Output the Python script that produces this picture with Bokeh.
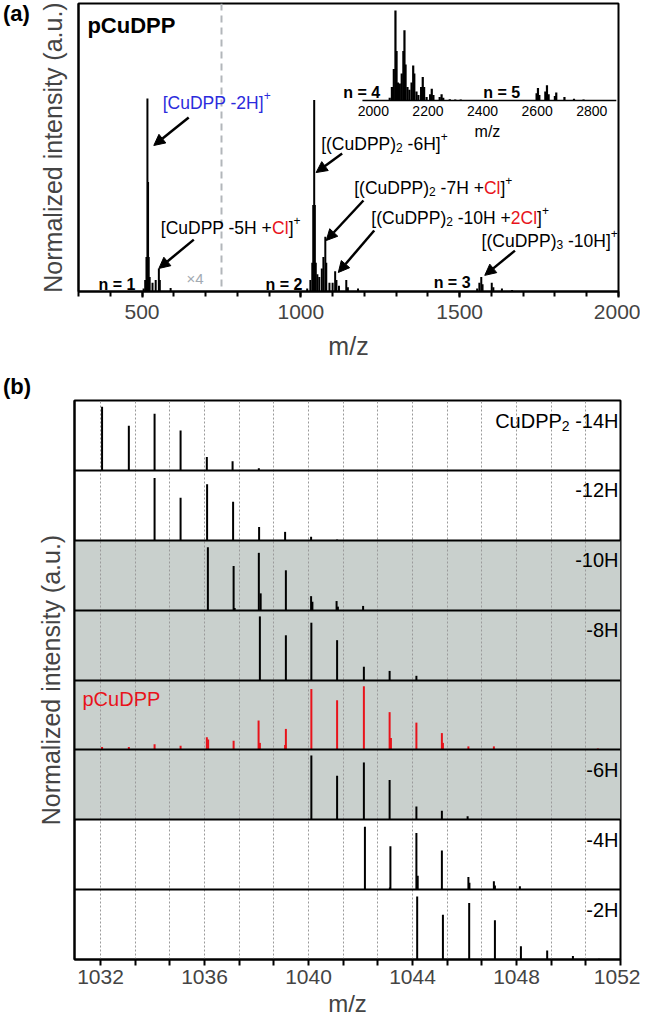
from bokeh.plotting import figure
from bokeh.models import (Range1d, SingleIntervalTicker, FixedTicker, Arrow,
                          NormalHead, ColumnDataSource, Div)
from bokeh.layouts import column, row
from bokeh.embed import file_html
from bokeh.resources import INLINE
from bokeh.core.properties import value

# ------------------------------------------------------------------ data (a)
# full-range spectrum (m/z, normalised intensity as displayed; n=1 region is x4)
a_mz = [505, 510, 514, 517, 519, 521, 524, 533, 543, 553, 556, 590,
        1020, 1030, 1036, 1039, 1042, 1044, 1047, 1052, 1058, 1066, 1071,
        1077, 1080, 1090, 1100, 1108, 1112, 1120, 1143, 1148, 1180,
        1555, 1562, 1568, 1572, 1601, 1606, 1633, 1665]
a_int = [0.01, 0.04, 0.12, 0.67, 0.38, 0.12, 0.05, 0.03, 0.04, 0.08, 0.04, 0.012,
         0.01, 0.04, 0.10, 0.30, 0.665, 0.30, 0.10, 0.06, 0.05, 0.08, 0.12,
         0.19, 0.10, 0.03, 0.03, 0.07, 0.04, 0.02, 0.04, 0.015, 0.01,
         0.01, 0.03, 0.05, 0.025, 0.03, 0.015, 0.01, 0.005]
x4_boundary = 750

# inset spectrum (n = 4, n = 5)
inset_mz = [2060, 2068, 2075, 2081, 2085, 2090, 2097, 2104, 2110, 2114, 2118,
            2125, 2132, 2140, 2146, 2150, 2158, 2165, 2175, 2181, 2186, 2195,
            2208, 2214, 2220, 2243, 2250, 2256, 2280, 2300, 2320,
            2598, 2603, 2608, 2630, 2636, 2642, 2665, 2670, 2700, 2735, 2770]
inset_int = [0.03, 0.15, 0.35, 1.00, 0.55, 0.20, 0.19, 0.30, 0.55, 0.78, 0.40,
             0.15, 0.12, 0.20, 0.39, 0.30, 0.10, 0.06, 0.15, 0.26, 0.15, 0.04,
             0.07, 0.13, 0.06, 0.04, 0.07, 0.03, 0.015, 0.01, 0.01,
             0.08, 0.14, 0.06, 0.10, 0.17, 0.07, 0.05, 0.09, 0.04, 0.02, 0.01]
inset_ticks = [2000, 2200, 2400, 2600, 2800]
inset_span = [1960, 2890]

# ------------------------------------------------------------------ data (b)
row_labels = ["-14H", "-12H", "-10H", "-8H", "pCuDPP", "-6H", "-4H", "-2H"]
mz_14H = [1032.06, 1033.09, 1034.08, 1035.08, 1036.09, 1037.08, 1038.09]
int_14H = [0.91, 0.64, 0.81, 0.57, 0.19, 0.13, 0.03]
mz_12H = [1034.08, 1035.08, 1036.10, 1037.10, 1038.10, 1039.10, 1040.10, 1041.10]
int_12H = [0.89, 0.61, 0.80, 0.55, 0.19, 0.12, 0.05, 0.01]
mz_10H = [1036.13, 1037.12, 1038.09, 1039.13, 1040.10, 1041.08, 1042.10]
int_10H = [0.90, 0.63, 0.82, 0.57, 0.20, 0.13, 0.06]
mz_10H_minor = [1037.16, 1038.16, 1040.15, 1041.13]
int_10H_minor = [0.03, 0.24, 0.12, 0.05]
mz_8H = [1038.13, 1039.13, 1040.11, 1041.10, 1042.13, 1043.12, 1044.15]
int_8H = [0.91, 0.64, 0.82, 0.57, 0.19, 0.13, 0.06]
mz_p = [1032.06, 1033.09, 1034.08, 1035.08, 1036.09, 1037.12, 1038.08, 1039.13,
        1040.11, 1041.10, 1042.13, 1043.12, 1044.15, 1045.13, 1046.15, 1047.13, 1051.13]
int_p = [0.04, 0.04, 0.08, 0.06, 0.18, 0.13, 0.42, 0.30,
         0.87, 0.71, 0.91, 0.54, 0.39, 0.24, 0.05, 0.05, 0.02]
mz_p_minor = [1036.14, 1038.13, 1039.10, 1043.17, 1045.17]
int_p_minor = [0.15, 0.10, 0.07, 0.17, 0.10]
mz_6H = [1040.11, 1041.10, 1042.13, 1043.12, 1044.15, 1045.13, 1046.12]
int_6H = [0.92, 0.63, 0.82, 0.57, 0.19, 0.13, 0.05]
mz_4H = [1042.17, 1043.15, 1044.15, 1045.13, 1046.15, 1047.13, 1048.13, 1049.15]
int_4H = [0.90, 0.62, 0.81, 0.56, 0.18, 0.12, 0.05, 0.01]
mz_4H_minor = [1043.13, 1044.20, 1046.19, 1047.17]
int_4H_minor = [0.03, 0.20, 0.10, 0.06]
mz_2H = [1044.18, 1045.17, 1046.18, 1047.17, 1048.17, 1049.18, 1050.17, 1051.17]
int_2H = [0.90, 0.64, 0.81, 0.56, 0.19, 0.13, 0.05, 0.01]
b_ticks = [1032, 1036, 1040, 1044, 1048, 1052]

# ------------------------------------------------------------------ styling helpers
FONT = "Liberation Sans"
BLUE = "#2b2bdc"
RED = "#e8131b"
GRAY_BG = "#c9d0cd"
YLABEL_SIZE = "25px"

W_REG = {' ': 278, '(': 333, ')': 333, '+': 584, '-': 333, '/': 278, '=': 584,
         '[': 278, ']': 278, 'C': 722, 'D': 722, 'H': 722, 'P': 667, 'l': 222,
         'u': 556, 'n': 556, 'm': 833, 'z': 500, 'p': 556, 'x': 500, 'a': 556,
         '.': 278, '\u00d7': 584}
W_BOLD = dict(W_REG, n=611, p=611, u=611)


def tw(s, size, bold=False):
    tbl = W_BOLD if bold else W_REG
    return sum(tbl.get(c, 556) for c in s) * size / 1000.0


def compose(store, pieces, x0, y0, sy, size_n, size_s, sub_px, sup_px, xo0=0.0):
    off = xo0
    for txt, col, kind in pieces:
        if kind == "n":
            fs, dy = size_n, 0.0
        elif kind == "sub":
            fs, dy = size_s, -sub_px
        else:
            fs, dy = size_s, sup_px
        lead = len(txt) - len(txt.lstrip(' '))
        off += tw(' ' * lead, fs)
        txt = txt.lstrip(' ')
        store["x"].append(x0)
        store["y"].append(y0 + dy / sy)
        store["text"].append(txt)
        store["xo"].append(off)
        store["color"].append(col)
        store["fs"].append("%.1fpx" % fs)
        off += tw(txt, fs)
    return off


def new_store():
    return dict(x=[], y=[], text=[], xo=[], color=[], fs=[])


TAG_W = 33


def panel_tag(text, height, pad_top):
    return Div(text=text, width=TAG_W, height=height, margin=(0, 0, 0, 0),
               styles={"font-family": FONT, "font-size": "22px", "font-weight": "bold",
                       "line-height": "26px", "padding-left": "3px",
                       "padding-top": "%dpx" % pad_top, "color": "black"})


# ------------------------------------------------------------------ figure (a)
A_W, A_H = 607, 372
A_LEFT, A_RIGHT, A_TOP, A_BOTTOM = 45, 22, 3, 81
A_FW = A_W - A_LEFT - A_RIGHT
A_FH = A_H - A_TOP - A_BOTTOM
XA = (300, 2000)
YA = (0, 1.0)
SXA = A_FW / (XA[1] - XA[0])
SYA = A_FH / (YA[1] - YA[0])
LIFT_A = 4.0 / SYA          # small upward nudge for text baselines

pa = figure(width=A_W, height=A_H, x_range=Range1d(*XA), y_range=Range1d(*YA),
            output_backend="svg", toolbar_location=None,
            min_border_left=A_LEFT, min_border_right=A_RIGHT,
            min_border_top=A_TOP, min_border_bottom=A_BOTTOM)
pa.extra_x_ranges = {"inset": Range1d(920, 2898)}
pa.extra_y_ranges = {"inset": Range1d(-2.122, 1.078)}
pa.grid.visible = False
pa.outline_line_color = "black"
pa.outline_line_width = 2
pa.outline_line_alpha = 1

xa = pa.xaxis[0]
xa.ticker = SingleIntervalTicker(interval=500, num_minor_ticks=5)
xa.axis_label = "m/z"
xa.axis_label_text_font = FONT
xa.axis_label_text_font_size = "25px"
xa.axis_label_text_font_style = "normal"
xa.axis_label_standoff = 10
xa.major_label_text_font = FONT
xa.major_label_text_font_size = "21px"
xa.major_label_standoff = 7
xa.axis_line_width = 2
xa.major_tick_line_width = 2
xa.minor_tick_line_width = 2
xa.major_tick_out = 6
xa.major_tick_in = 0
xa.minor_tick_out = 5
xa.minor_tick_in = 0

ya = pa.yaxis[0]
ya.ticker = FixedTicker(ticks=[])
ya.axis_label = "Normalized intensity (a.u.)"
ya.axis_label_text_font = FONT
ya.axis_label_text_font_size = YLABEL_SIZE
ya.axis_label_text_font_style = "normal"
ya.axis_label_standoff = 12
ya.axis_line_width = 2
ya.major_tick_line_color = None
ya.minor_tick_line_color = None

# x4 boundary
pa.vspan(x=[x4_boundary], line_color="#b2b6ba", line_width=2, line_dash="7 5")

# main spectrum
src_a = ColumnDataSource(dict(x=a_mz, y0=[0] * len(a_mz), y1=a_int))
pa.segment(x0="x", y0="y0", x1="x", y1="y1", source=src_a,
           line_color="black", line_width=2)

# inset spectrum
src_i = ColumnDataSource(dict(x=inset_mz, y0=[0] * len(inset_mz), y1=inset_int))
pa.segment(x0="x", y0="y0", x1="x", y1="y1", source=src_i,
           line_color="black", line_width=2.2,
           x_range_name="inset", y_range_name="inset")
pa.segment(x0=[inset_span[0]], y0=[0], x1=[inset_span[1]], y1=[0],
           line_color="black", line_width=1.5,
           x_range_name="inset", y_range_name="inset")
pa.text(x=inset_ticks, y=[-0.115] * len(inset_ticks),
        text=[str(t) for t in inset_ticks],
        text_font=value(FONT), text_font_size="14px", text_align="center",
        text_baseline="alphabetic", text_color="black",
        x_range_name="inset", y_range_name="inset")
pa.text(x=[2418], y=[-0.345], text=["m/z"], text_font=value(FONT),
        text_font_size="16px", text_align="center", text_baseline="alphabetic",
        x_range_name="inset", y_range_name="inset")
pa.text(x=[1890, 2403], y=[0.085, 0.085], text=["n = 4", "n = 5"],
        text_font=value(FONT), text_font_size="16px", text_font_style="bold",
        text_align="left", text_baseline="alphabetic",
        x_range_name="inset", y_range_name="inset")

# bold labels in main frame
pa.text(x=[363, 889, 1418], y=[0.012 + LIFT_A, 0.012 + LIFT_A, 0.017 + LIFT_A],
        text=["n = 1", "n = 2", "n = 3"], text_font=value(FONT),
        text_font_size="16px", text_font_style="bold", text_baseline="alphabetic")
pa.text(x=[328], y=[0.924], text=["pCuDPP"], text_font=value(FONT),
        text_font_size="22px", text_font_style="bold", text_baseline="alphabetic")
pa.text(x=[640], y=[0.031 + LIFT_A], text=["\u00d74"], text_font=value(FONT),
        text_font_size="15px", text_color="#a3aab2", text_baseline="alphabetic")

# peak annotations (text pieces)
K = "black"
annotations = [
    ((565, 0.642), [("[CuDPP -2H]", BLUE, "n"), ("+", BLUE, "sup")]),
    ((559, 0.208), [("[CuDPP -5H +", K, "n"), ("Cl", RED, "n"), ("]", K, "n"), ("+", K, "sup")]),
    ((1064, 0.500), [("[(CuDPP)", K, "n"), ("2", K, "sub"), (" -6H]", K, "n"), ("+", K, "sup")]),
    ((1168, 0.347), [("[(CuDPP)", K, "n"), ("2", K, "sub"), (" -7H +", K, "n"),
                     ("Cl", RED, "n"), ("]", K, "n"), ("+", K, "sup")]),
    ((1222, 0.243), [("[(CuDPP)", K, "n"), ("2", K, "sub"), (" -10H +", K, "n"),
                     ("2Cl", RED, "n"), ("]", K, "n"), ("+", K, "sup")]),
    ((1569, 0.163), [("[(CuDPP)", K, "n"), ("3", K, "sub"), (" -10H]", K, "n"), ("+", K, "sup")]),
]
store_a = new_store()
for (ax, ay), pieces in annotations:
    compose(store_a, pieces, ax, ay + LIFT_A, SYA, 17.5, 12, 4, 7)
pa.text(x="x", y="y", text="text", x_offset="xo", text_color="color",
        text_font_size="fs", text_font=value(FONT), text_baseline="alphabetic",
        text_align="left", source=ColumnDataSource(store_a))

arrows = [
    ((647, 0.604), (537, 0.507)),
    ((663, 0.180), (553, 0.080)),
    ((1130, 0.479), (1048, 0.413)),
    ((1197, 0.316), (1080, 0.177)),
    ((1231, 0.212), (1118, 0.066)),
    ((1674, 0.142), (1579, 0.056)),
]
for (xs, ys), (xe, ye) in arrows:
    pa.add_layout(Arrow(x_start=xs, y_start=ys, x_end=xe, y_end=ye,
                        line_color="black", line_width=2.5,
                        end=NormalHead(size=11, fill_color="black", line_color="black")))

# ------------------------------------------------------------------ figure (b)
B_W, B_H = 607, 652
B_LEFT, B_RIGHT, B_TOP, B_BOTTOM = 40, 20, 28, 65
B_FW = B_W - B_LEFT - B_RIGHT
B_FH = B_H - B_TOP - B_BOTTOM
XB = (1031, 1052)
YB = (0, 8)
SYB = B_FH / (YB[1] - YB[0])

pb = figure(width=B_W, height=B_H, x_range=Range1d(*XB), y_range=Range1d(*YB),
            output_backend="svg", toolbar_location=None,
            min_border_left=B_LEFT, min_border_right=B_RIGHT,
            min_border_top=B_TOP, min_border_bottom=B_BOTTOM)
pb.outline_line_color = "black"
pb.outline_line_width = 2
pb.outline_line_alpha = 1

minor = [b_ticks[0] + k * 4.0 / 3.0 for k in range(16) if k % 3 != 0]
bt = FixedTicker(ticks=b_ticks, minor_ticks=minor)
xb = pb.xaxis[0]
xb.ticker = bt
xb.axis_label = "m/z"
xb.axis_label_text_font = FONT
xb.axis_label_text_font_size = "24px"
xb.axis_label_text_font_style = "normal"
xb.axis_label_standoff = 3
xb.major_label_text_font = FONT
xb.major_label_text_font_size = "21px"
xb.major_label_standoff = 4
xb.axis_line_width = 2
xb.major_tick_line_width = 2
xb.minor_tick_line_width = 2
xb.major_tick_out = 6
xb.major_tick_in = 0
xb.minor_tick_out = 6
xb.minor_tick_in = 0

yb = pb.yaxis[0]
yb.ticker = FixedTicker(ticks=[])
yb.axis_label = "Normalized intensity (a.u.)"
yb.axis_label_text_font = FONT
yb.axis_label_text_font_size = YLABEL_SIZE
yb.axis_label_text_font_style = "normal"
yb.axis_label_standoff = 10
yb.axis_line_width = 2
yb.major_tick_line_color = None
yb.minor_tick_line_color = None

pb.ygrid.visible = False
pb.xgrid.ticker = bt
pb.xgrid.grid_line_color = "#9a9a9a"
pb.xgrid.grid_line_dash = "2 2"
pb.xgrid.grid_line_width = 1
pb.xgrid.minor_grid_line_color = "#9a9a9a"
pb.xgrid.minor_grid_line_dash = "2 2"
pb.xgrid.minor_grid_line_width = 1

# grey rows (-10H, -8H, pCuDPP, -6H)
pb.hstrip(y0=[2], y1=[6], fill_color=GRAY_BG, line_color=None, level="image")

rows = [(mz_14H, int_14H), (mz_12H, int_12H), (mz_10H, int_10H), (mz_8H, int_8H),
        (mz_p, int_p), (mz_6H, int_6H), (mz_4H, int_4H), (mz_2H, int_2H)]
minor_rows = {2: (mz_10H_minor, int_10H_minor), 4: (mz_p_minor, int_p_minor),
              6: (mz_4H_minor, int_4H_minor)}

for i, (mz, it) in enumerate(rows):
    base = 7 - i
    col = RED if row_labels[i] == "pCuDPP" else "black"
    pb.segment(x0=mz, y0=[base] * len(mz), x1=mz, y1=[base + v for v in it],
               line_color=col, line_width=2)
    if i in minor_rows:
        mz2, it2 = minor_rows[i]
        pb.segment(x0=mz2, y0=[base] * len(mz2), x1=mz2, y1=[base + v for v in it2],
                   line_color=col, line_width=2)

# row separators
pb.hspan(y=list(range(1, 8)), line_color="black", line_width=2)

# row labels
store_b = new_store()
for i, lab in enumerate(row_labels):
    top = 8 - i
    if lab == "pCuDPP":
        compose(store_b, [(lab, RED, "n")], XB[0], top - 19.0 / SYB, SYB, 20, 14, 5, 8, xo0=8)
        continue
    if i == 0:
        pieces = [("CuDPP", K, "n"), ("2", K, "sub"), (" " + lab, K, "n")]
    else:
        pieces = [(lab, K, "n")]
    total = sum(tw(t, 14 if k == "sub" else 20) for t, c, k in pieces)
    compose(store_b, pieces, XB[1], top - 20.0 / SYB, SYB, 20, 14, 5, 8, xo0=-total - 2)
pb.text(x="x", y="y", text="text", x_offset="xo", text_color="color",
        text_font_size="fs", text_font=value(FONT), text_baseline="alphabetic",
        text_align="left", source=ColumnDataSource(store_b))

tag_a = panel_tag("(a)", A_H, 1)
tag_b = panel_tag("(b)", B_H, 2)

layout = column(row(tag_a, pa, spacing=0), row(tag_b, pb, spacing=0), spacing=0)
open("out.html", "w").write(file_html(layout, INLINE))
